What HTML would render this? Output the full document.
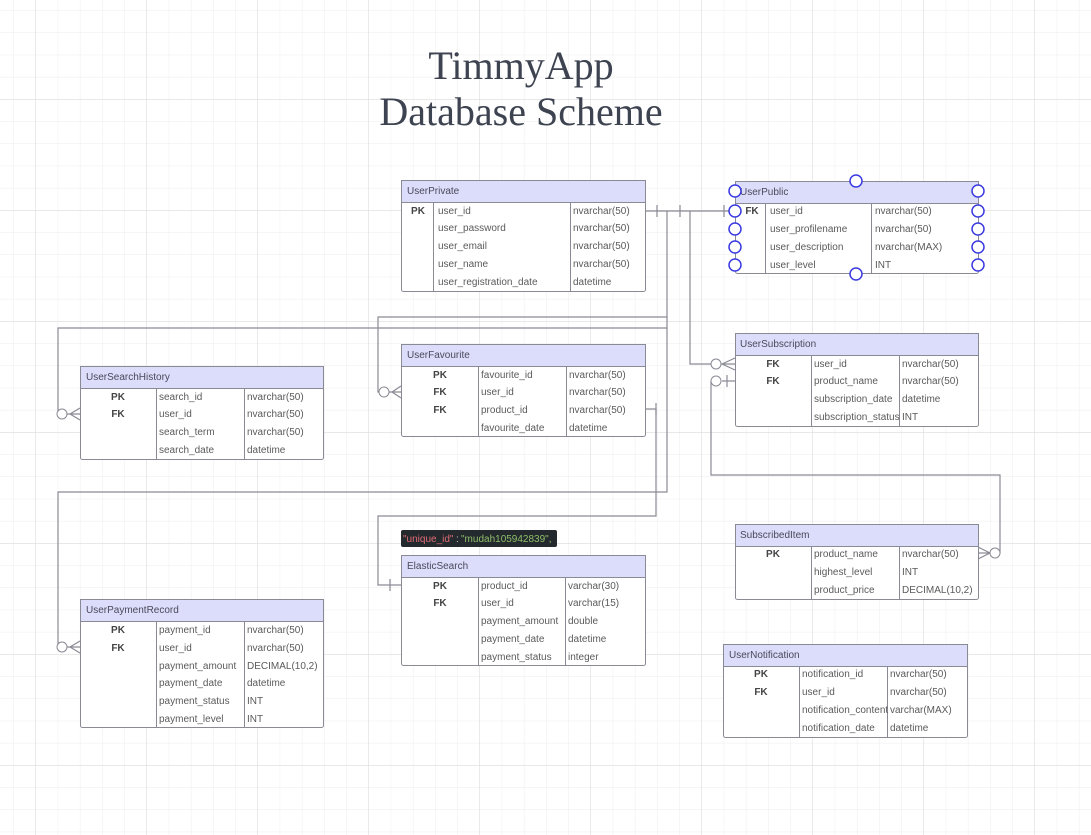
<!DOCTYPE html>
<html><head><meta charset="utf-8"><style>
html,body{margin:0;padding:0;background:#fff;}
svg{display:block;}
text{font-family:"Liberation Sans",sans-serif;font-size:10px;fill:#5a5a5a;}
.h{fill:#4a4a5a;}
.k{fill:#444;font-weight:bold;text-anchor:middle;}
.ln{fill:none;stroke:#8a8a94;stroke-width:1.2;}
.tb{fill:#fff;stroke:#8a8a94;stroke-width:1;}
.hd{fill:#dcdcfb;stroke:#8a8a94;stroke-width:1;}
.dv{stroke:#8a8a94;stroke-width:1;}
.bc{fill:#fff;stroke:#3b3be0;stroke-width:1.5;}
.oc{fill:#fff;stroke:#8a8a94;stroke-width:1;}
</style></head><body>
<svg width="1091" height="835" viewBox="0 0 1091 835" xmlns="http://www.w3.org/2000/svg">
<defs>
<pattern id="g" x="13.3" y="10.3" width="22.2" height="22.2" patternUnits="userSpaceOnUse">
<path d="M0 0H22.2M0 0V22.2" stroke="#ececec" stroke-width="1" fill="none"/>
</pattern>
<pattern id="G" x="35.3" y="99.3" width="111" height="111" patternUnits="userSpaceOnUse">
<path d="M0 0H111M0 0V111" stroke="#dcdcdc" stroke-width="1" fill="none"/>
</pattern>
</defs>
<rect width="1091" height="835" fill="url(#g)"/>
<rect width="1091" height="835" fill="url(#G)"/>

<text x="521" y="79" text-anchor="middle" style="font-family:'Liberation Serif',serif;font-size:40px;fill:#3d4350">TimmyApp</text>
<text x="521" y="125" text-anchor="middle" style="font-family:'Liberation Serif',serif;font-size:40px;fill:#3d4350">Database Scheme</text>

<!-- connectors -->
<path class="ln" d="M645 211H735"/>
<path class="ln" d="M657 205V217M680 205V217M724 205V217"/>
<path class="ln" d="M667 211V317H378V392H392"/>
<path class="ln" d="M667 317V328H58V414H70"/>
<path class="ln" d="M667 328V492H58V647H70"/>
<path class="ln" d="M645 409H656V516H378V585H401"/>
<path class="ln" d="M656 403V415M390 579V591"/>
<path class="ln" d="M690 211V364H722"/>
<path class="ln" d="M711 381V475H1000V553H990"/>
<path class="ln" d="M722 381H735M727 375V387"/>
<!-- crow feet -->
<path class="ln" d="M392 392L401 386M392 392L401 398M392 392H401"/><circle class="oc" cx="384" cy="392" r="5"/>
<path class="ln" d="M70 414L80 408M70 414L80 420M70 414H80"/><circle class="oc" cx="62" cy="414" r="5"/>
<path class="ln" d="M70 647L80 641M70 647L80 653M70 647H80"/><circle class="oc" cx="62" cy="647" r="5"/>
<path class="ln" d="M722 364L735 358M722 364L735 370M722 364H735"/><circle class="oc" cx="716" cy="364" r="5"/>
<circle class="oc" cx="716" cy="381" r="5"/>
<path class="ln" d="M990 553L978 547M990 553L978 559M990 553H978"/><circle class="oc" cx="995" cy="553" r="5"/>

<!-- UserPrivate -->
<rect class="tb" x="401.5" y="180.5" width="244" height="111" rx="2"/>
<rect class="hd" x="401.5" y="180.5" width="244" height="22"/>
<path class="dv" d="M433.5 202V291M570.5 202V291"/>
<text class="h" x="407" y="194">UserPrivate</text>
<text class="k" x="418" y="214">PK</text>
<text x="438" y="214">user_id</text><text x="573" y="214">nvarchar(50)</text>
<text x="438" y="231">user_password</text><text x="573" y="231">nvarchar(50)</text>
<text x="438" y="249">user_email</text><text x="573" y="249">nvarchar(50)</text>
<text x="438" y="267">user_name</text><text x="573" y="267">nvarchar(50)</text>
<text x="438" y="285">user_registration_date</text><text x="573" y="285">datetime</text>

<!-- UserPublic -->
<rect class="tb" x="735.5" y="181.5" width="243" height="92" rx="2"/>
<rect class="hd" x="735.5" y="181.5" width="243" height="22"/>
<path class="dv" d="M765.5 203V273M871.5 203V273"/>
<text class="h" x="740" y="195">UserPublic</text>
<text class="k" x="752" y="214">FK</text>
<text x="770" y="214">user_id</text><text x="875" y="214">nvarchar(50)</text>
<text x="770" y="232">user_profilename</text><text x="875" y="232">nvarchar(50)</text>
<text x="770" y="250">user_description</text><text x="875" y="250">nvarchar(MAX)</text>
<text x="770" y="268">user_level</text><text x="875" y="268">INT</text>
<circle class="bc" cx="735" cy="191" r="6"/><circle class="bc" cx="735" cy="211" r="6"/><circle class="bc" cx="735" cy="229" r="6"/><circle class="bc" cx="735" cy="247" r="6"/><circle class="bc" cx="735" cy="265" r="6"/>
<circle class="bc" cx="978" cy="191" r="6"/><circle class="bc" cx="978" cy="211" r="6"/><circle class="bc" cx="978" cy="229" r="6"/><circle class="bc" cx="978" cy="247" r="6"/><circle class="bc" cx="978" cy="265" r="6"/>
<circle class="bc" cx="856" cy="181" r="6"/><circle class="bc" cx="856" cy="274" r="6"/>

<!-- UserSubscription -->
<rect class="tb" x="735.5" y="333.5" width="243" height="93" rx="2"/>
<rect class="hd" x="735.5" y="333.5" width="243" height="22"/>
<path class="dv" d="M811.5 355V426M899.5 355V426"/>
<text class="h" x="740" y="347">UserSubscription</text>
<text class="k" x="773" y="367">FK</text><text class="k" x="773" y="384">FK</text>
<text x="814" y="367">user_id</text><text x="902" y="367">nvarchar(50)</text>
<text x="814" y="384">product_name</text><text x="902" y="384">nvarchar(50)</text>
<text x="814" y="402">subscription_date</text><text x="902" y="402">datetime</text>
<text x="814" y="420">subscription_status</text><text x="902" y="420">INT</text>

<!-- UserSearchHistory -->
<rect class="tb" x="80.5" y="366.5" width="243" height="93" rx="2"/>
<rect class="hd" x="80.5" y="366.5" width="243" height="22"/>
<path class="dv" d="M156.5 388V459M244.5 388V459"/>
<text class="h" x="86" y="380">UserSearchHistory</text>
<text class="k" x="118" y="400">PK</text><text class="k" x="118" y="417">FK</text>
<text x="159" y="400">search_id</text><text x="247" y="400">nvarchar(50)</text>
<text x="159" y="417">user_id</text><text x="247" y="417">nvarchar(50)</text>
<text x="159" y="435">search_term</text><text x="247" y="435">nvarchar(50)</text>
<text x="159" y="453">search_date</text><text x="247" y="453">datetime</text>

<!-- UserFavourite -->
<rect class="tb" x="401.5" y="344.5" width="244" height="92" rx="2"/>
<rect class="hd" x="401.5" y="344.5" width="244" height="22"/>
<path class="dv" d="M478.5 366V436M566.5 366V436"/>
<text class="h" x="407" y="358">UserFavourite</text>
<text class="k" x="440" y="378">PK</text><text class="k" x="440" y="395">FK</text><text class="k" x="440" y="413">FK</text>
<text x="481" y="378">favourite_id</text><text x="569" y="378">nvarchar(50)</text>
<text x="481" y="395">user_id</text><text x="569" y="395">nvarchar(50)</text>
<text x="481" y="413">product_id</text><text x="569" y="413">nvarchar(50)</text>
<text x="481" y="431">favourite_date</text><text x="569" y="431">datetime</text>

<!-- tooltip -->
<rect x="401" y="530" width="156" height="17" rx="2" fill="#24292e"/>
<text x="403" y="542" style="fill:#e06c75">"unique_id"</text><text x="456" y="542" style="fill:#ccc">:</text><text x="461" y="542" style="fill:#8fbf6a">"mudah105942839",</text>

<!-- ElasticSearch -->
<rect class="tb" x="401.5" y="555.5" width="244" height="110" rx="2"/>
<rect class="hd" x="401.5" y="555.5" width="244" height="22"/>
<path class="dv" d="M478.5 577V665M565.5 577V665"/>
<text class="h" x="407" y="569">ElasticSearch</text>
<text class="k" x="440" y="589">PK</text><text class="k" x="440" y="606">FK</text>
<text x="481" y="589">product_id</text><text x="568" y="589">varchar(30)</text>
<text x="481" y="606">user_id</text><text x="568" y="606">varchar(15)</text>
<text x="481" y="624">payment_amount</text><text x="568" y="624">double</text>
<text x="481" y="642">payment_date</text><text x="568" y="642">datetime</text>
<text x="481" y="660">payment_status</text><text x="568" y="660">integer</text>

<!-- UserPaymentRecord -->
<rect class="tb" x="80.5" y="599.5" width="243" height="128" rx="2"/>
<rect class="hd" x="80.5" y="599.5" width="243" height="22"/>
<path class="dv" d="M156.5 621V727M244.5 621V727"/>
<text class="h" x="86" y="613">UserPaymentRecord</text>
<text class="k" x="118" y="633">PK</text><text class="k" x="118" y="651">FK</text>
<text x="159" y="633">payment_id</text><text x="247" y="633">nvarchar(50)</text>
<text x="159" y="651">user_id</text><text x="247" y="651">nvarchar(50)</text>
<text x="159" y="669">payment_amount</text><text x="247" y="669">DECIMAL(10,2)</text>
<text x="159" y="686">payment_date</text><text x="247" y="686">datetime</text>
<text x="159" y="704">payment_status</text><text x="247" y="704">INT</text>
<text x="159" y="722">payment_level</text><text x="247" y="722">INT</text>

<!-- SubscribedItem -->
<rect class="tb" x="735.5" y="524.5" width="243" height="75" rx="2"/>
<rect class="hd" x="735.5" y="524.5" width="243" height="22"/>
<path class="dv" d="M811.5 546V599M899.5 546V599"/>
<text class="h" x="740" y="538">SubscribedItem</text>
<text class="k" x="773" y="557">PK</text>
<text x="814" y="557">product_name</text><text x="902" y="557">nvarchar(50)</text>
<text x="814" y="575">highest_level</text><text x="902" y="575">INT</text>
<text x="814" y="593">product_price</text><text x="902" y="593">DECIMAL(10,2)</text>

<!-- UserNotification -->
<rect class="tb" x="723.5" y="644.5" width="244" height="93" rx="2"/>
<rect class="hd" x="723.5" y="644.5" width="244" height="22"/>
<path class="dv" d="M799.5 666V737M887.5 666V737"/>
<text class="h" x="729" y="658">UserNotification</text>
<text class="k" x="761" y="677">PK</text><text class="k" x="761" y="695">FK</text>
<text x="802" y="677">notification_id</text><text x="890" y="677">nvarchar(50)</text>
<text x="802" y="695">user_id</text><text x="890" y="695">nvarchar(50)</text>
<text x="802" y="713">notification_content</text><text x="890" y="713">varchar(MAX)</text>
<text x="802" y="731">notification_date</text><text x="890" y="731">datetime</text>
</svg>
</body></html>
